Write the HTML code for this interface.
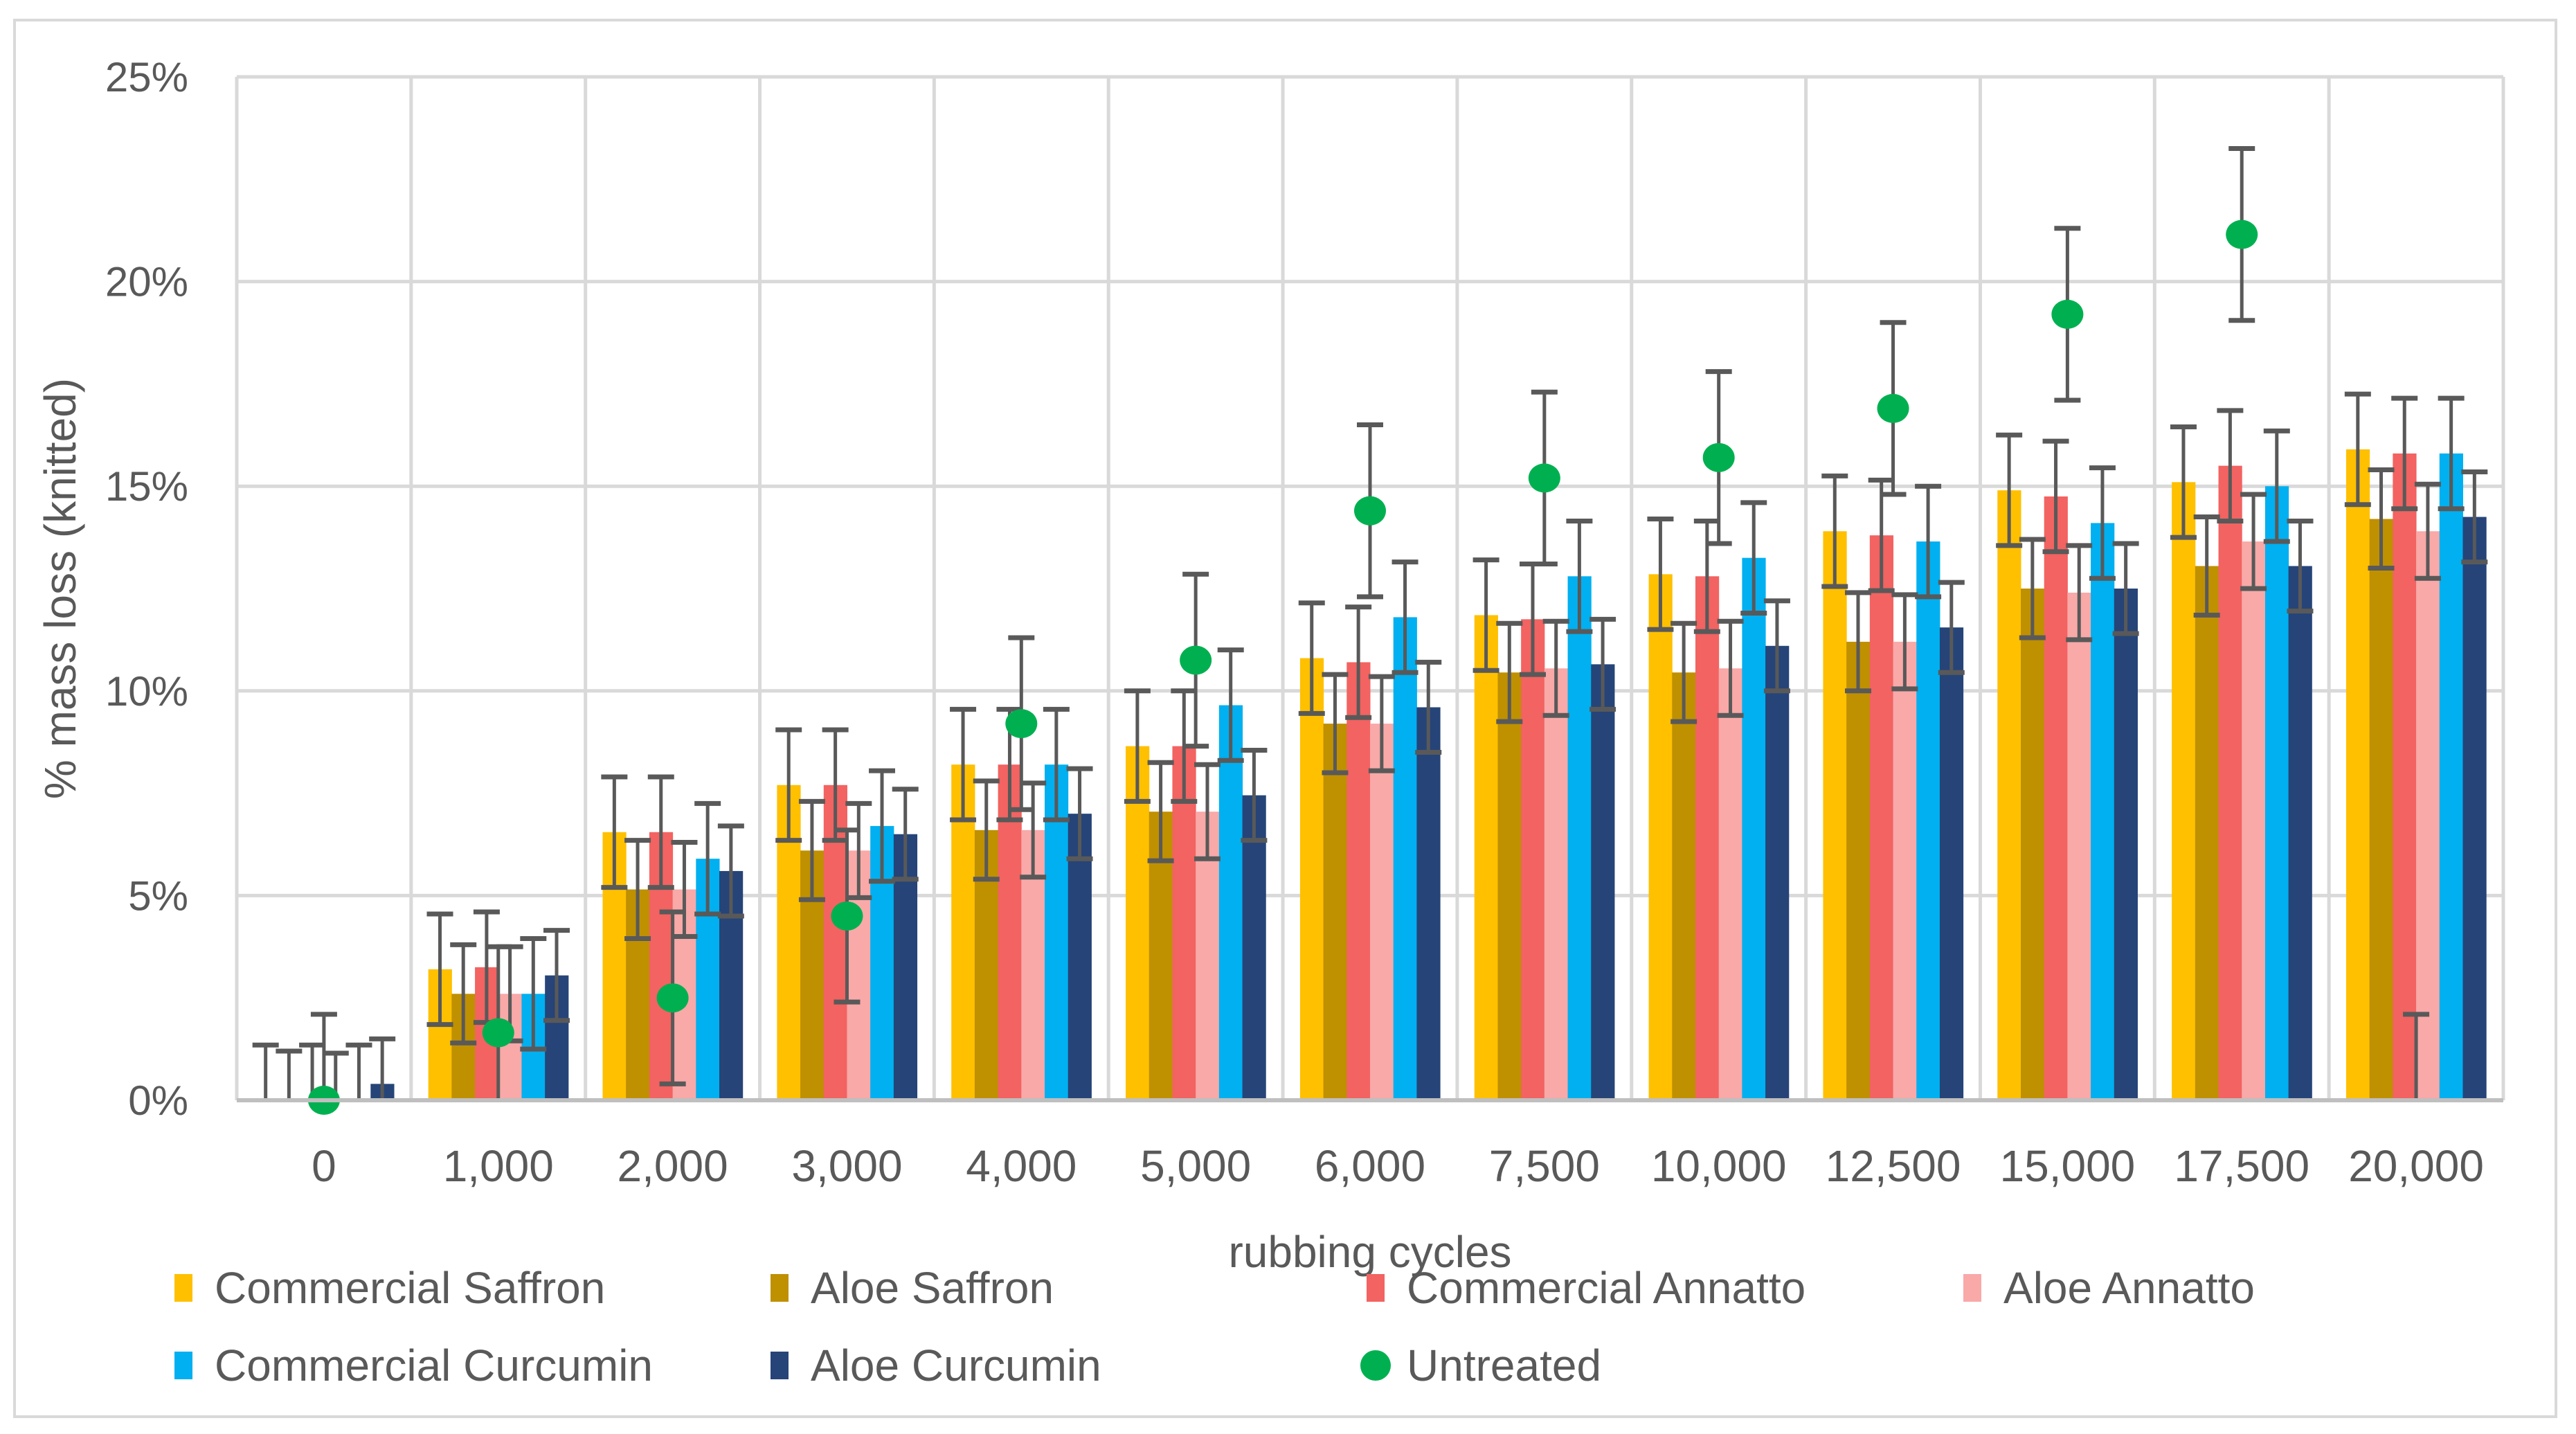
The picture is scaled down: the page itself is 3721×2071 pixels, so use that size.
<!DOCTYPE html>
<html><head><meta charset="utf-8"><style>
html,body{margin:0;padding:0;background:#fff;}
svg{display:block;font-family:"Liberation Sans",sans-serif;}
</style></head><body>
<svg id="chart" width="3721" height="2071" viewBox="0 0 3721 2071" xmlns="http://www.w3.org/2000/svg">
<rect x="21" y="29" width="3671" height="2017" fill="#fff" stroke="#d9d9d9" stroke-width="4"/>
<g id="grid"></g>
<g id="bars"></g>
<g id="errs"></g>
<g id="dots"></g>
<g id="labels"></g>
<text x="92" y="850" font-size="64" fill="#595959" text-anchor="middle" transform="rotate(-90 92 850)" dominant-baseline="middle">% mass loss (knitted)</text>
<text x="1979" y="1830" font-size="64" fill="#595959" text-anchor="middle">rubbing cycles</text>
<g id="legend"></g>
</svg>
<script>
const categories=["0","1,000","2,000","3,000","4,000","5,000","6,000","7,500","10,000","12,500","15,000","17,500","20,000"];
const seriesNames=["Commercial Saffron","Aloe Saffron","Commercial Annatto","Aloe Annatto","Commercial Curcumin","Aloe Curcumin"];
const commercialSaffron=[0,3.2,6.55,7.7,8.2,8.65,10.8,11.85,12.85,13.9,14.9,15.1,15.9];
const aloeSaffron=[0,2.6,5.15,6.1,6.6,7.05,9.2,10.45,10.45,11.2,12.5,13.05,14.2];
const commercialAnnatto=[0,3.25,6.55,7.7,8.2,8.65,10.7,11.75,12.8,13.8,14.75,15.5,15.8];
const aloeAnnatto=[0,2.6,5.15,6.1,6.6,7.05,9.2,10.55,10.55,11.2,12.4,13.65,13.9];
const commercialCurcumin=[0,2.6,5.9,6.7,8.2,9.65,11.8,12.8,13.25,13.65,14.1,15.0,15.8];
const aloeCurcumin=[0.4,3.05,5.6,6.5,7.0,7.45,9.6,10.65,11.1,11.55,12.5,13.05,14.25];
const seriesErr=[1.35,1.2,1.35,1.15,1.35,1.1];
const untreated=[0,1.65,2.5,4.5,9.2,10.75,14.4,15.2,15.7,16.9,19.2,21.15,0];
const untreatedShowDot=[1,1,1,1,1,1,1,1,1,1,1,1,0];
const untreatedErr=2.1;
const yTicks=[0,5,10,15,20,25];
const yTickLabels=["0%","5%","10%","15%","20%","25%"];
const colors=["#FFC000","#BF9000","#F26361","#F8A9A8","#00B0F0","#264478"];
const allSeries=[commercialSaffron,aloeSaffron,commercialAnnatto,aloeAnnatto,commercialCurcumin,aloeCurcumin];
const NS="http://www.w3.org/2000/svg";
const L=342,R=3616,T=111,B=1589,ymax=25;
const cw=(R-L)/categories.length, bw=33.7;
function y(v){return B-(v/ymax)*(B-T);}
function xc(i){return L+cw*(i+0.5);}
function mk(tag,attrs,parent){const e=document.createElementNS(NS,tag);for(const k in attrs)e.setAttribute(k,attrs[k]);document.getElementById(parent).appendChild(e);return e;}
yTicks.forEach((t,i)=>{
 if(t>0){const g=mk('line',{x1:L,x2:R,y1:y(t),y2:y(t),stroke:'#d9d9d9','stroke-width':5},'grid');
 
 }
 const tx=mk('text',{x:272,y:y(t)+21,'font-size':60,fill:'#595959','text-anchor':'end'},'labels');
 tx.textContent=yTickLabels[i];
 
 
});
for(let i=0;i<=categories.length;i++){
 const g=mk('line',{x1:L+cw*i,x2:L+cw*i,y1:T,y2:B,stroke:'#d9d9d9','stroke-width':5},'grid');
 
 
}
const ax=mk('line',{x1:L,x2:R,y1:B,y2:B,stroke:'#bfbfbf','stroke-width':6},'labels');


categories.forEach((c,i)=>{
 const tx=mk('text',{x:xc(i),y:1706,'font-size':64,fill:'#595959','text-anchor':'middle'},'labels');
 tx.textContent=c;
 
 
});
function errbar(x,v,e){
 const top=y(v+e), bot=Math.min(B,y(Math.max(0,v-e)));
 const l=mk('line',{x1:x,x2:x,y1:top,y2:bot,stroke:'#595959','stroke-width':5},'errs');
 
 
 const c1=mk('line',{x1:x-19,x2:x+19,y1:top,y2:top,stroke:'#595959','stroke-width':7},'errs');
 
 
 if(v-e>0){const c2=mk('line',{x1:x-19,x2:x+19,y1:bot,y2:bot,stroke:'#595959','stroke-width':7},'errs');
 
 }
}
allSeries.forEach((s,si)=>{
 s.forEach((v,i)=>{
  const x=xc(i)-3*bw+si*bw;
  const r=mk('rect',{x:x,y:y(v),width:bw+0.5,height:B-y(v),fill:colors[si]},'bars');
  
  
  errbar(x+bw/2,v,seriesErr[si]);
 });
});
untreated.forEach((v,i)=>{
 errbar(xc(i),v,untreatedErr);
 if(untreatedShowDot[i]){
  const c=mk('ellipse',{cx:xc(i),cy:y(v),rx:23,ry:21,fill:'#00B050'},'dots');
  
  
 }
});
const legItems=seriesNames.concat(["Untreated"]);
const legColors=colors.concat(["#00B050"]);
const legX=[252,1113,1974,2836,252,1113,1974];
const legY=[1860,1860,1860,1860,1972,1972,1972];
legItems.forEach((n,i)=>{
 let s;
 if(i<6){s=mk('rect',{x:legX[i],y:legY[i]-20,width:26,height:40,fill:legColors[i]},'legend');}
 else{s=mk('circle',{cx:legX[i]+13,cy:legY[i],r:22,fill:legColors[i]},'legend');}
 
 
 const t=mk('text',{x:legX[i]+58,y:legY[i]+22,'font-size':64,fill:'#595959'},'legend');
 t.textContent=n;
 
 
});
</script>
</body></html>
